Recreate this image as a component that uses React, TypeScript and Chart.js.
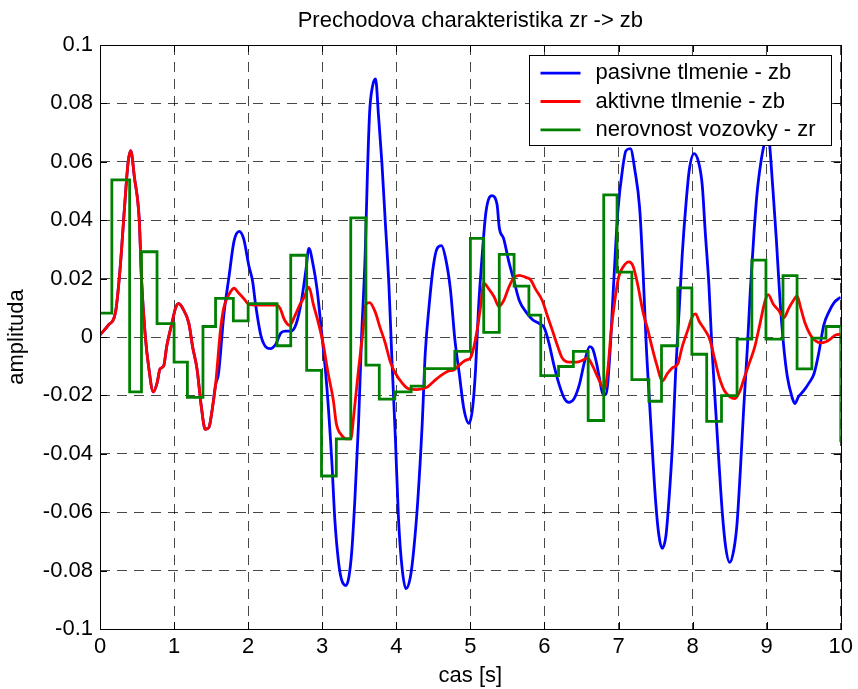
import React, { useEffect, useRef } from "react";
import { Chart, registerables } from "chart.js";

Chart.register(...registerables);

const chartTitle = "Prechodova charakteristika zr -> zb";
const xAxisTitle = "cas [s]";
const yAxisTitle = "amplituda";
const seriesLabels = ["pasivne tlmenie - zb", "aktivne tlmenie - zb", "nerovnost vozovky - zr"];
const seriesColors = ["#0000ff", "#ff0000", "#008000"];

const xTickValues = [0, 1, 2, 3, 4, 5, 6, 7, 8, 9, 10];
const yTickValues = [-0.1, -0.08, -0.06, -0.04, -0.02, 0, 0.02, 0.04, 0.06, 0.08, 0.1];

// shared start of passive and active response (curves coincide)
const commonTime = [0, 0.11, 0.21, 0.27, 0.33, 0.38, 0.415, 0.465, 0.53, 0.56, 0.61, 0.655, 0.72, 0.77, 0.81, 0.86, 0.9, 0.97, 1.02, 1.06, 1.115, 1.2, 1.25, 1.31, 1.37, 1.42, 1.47, 1.51, 1.56];
const commonZb = [0.0007, 0.004, 0.0086, 0.023, 0.044, 0.06, 0.0638, 0.0546, 0.04, 0.02, 0.0007, -0.0099, -0.0188, -0.0158, -0.011, -0.0099, -0.0033, 0.0046, 0.0099, 0.0114, 0.0099, 0.0046, -0.0033, -0.011, -0.0243, -0.0316, -0.031, -0.0257, -0.0164];

const passiveTailTime = [1.6, 1.67, 1.74, 1.81, 1.88, 1.94, 2.01, 2.06, 2.1, 2.17, 2.235, 2.3, 2.37, 2.44, 2.5, 2.58, 2.65, 2.72, 2.78, 2.82, 2.88, 2.93, 2.99, 3.06, 3.13, 3.17, 3.22, 3.26, 3.32, 3.36, 3.4, 3.44, 3.49, 3.53, 3.58, 3.61, 3.64, 3.68, 3.72, 3.76, 3.805, 3.85, 3.9, 3.94, 3.99, 4.03, 4.08, 4.13, 4.19, 4.235, 4.29, 4.35, 4.39, 4.44, 4.5, 4.55, 4.61, 4.665, 4.73, 4.79, 4.85, 4.91, 4.98, 5.03, 5.07, 5.11, 5.16, 5.21, 5.29, 5.36, 5.39, 5.45, 5.52, 5.59, 5.66, 5.75, 5.84, 5.93, 5.995, 6.06, 6.13, 6.2, 6.27, 6.33, 6.4, 6.47, 6.54, 6.61, 6.65, 6.7, 6.74, 6.79, 6.83, 6.88, 6.93, 6.99, 7.06, 7.1, 7.16, 7.22, 7.285, 7.33, 7.375, 7.42, 7.45, 7.5, 7.545, 7.59, 7.64, 7.68, 7.73, 7.77, 7.82, 7.86, 7.91, 7.955, 8.02, 8.08, 8.13, 8.17, 8.22, 8.26, 8.31, 8.355, 8.4, 8.445, 8.5, 8.555, 8.6, 8.645, 8.69, 8.74, 8.78, 8.83, 8.87, 8.93, 8.98, 9.01, 9.04, 9.08, 9.13, 9.18, 9.23, 9.28, 9.34, 9.38, 9.43, 9.5, 9.57, 9.64, 9.7, 9.77, 9.84, 9.91, 9.975, 10.0];
const passiveTailZb = [-0.0125, 0.0072, 0.0204, 0.0329, 0.0362, 0.0336, 0.0243, 0.0191, 0.0112, 0.0007, -0.0033, -0.004, -0.0026, 0.0013, 0.002, 0.002, 0.0046, 0.0125, 0.023, 0.0303, 0.0243, 0.0164, 0.002, -0.0164, -0.0428, -0.0625, -0.077, -0.083, -0.0851, -0.0822, -0.073, -0.056, -0.0296, -0.0007, 0.0283, 0.0559, 0.077, 0.086, 0.0884, 0.0757, 0.0599, 0.04, 0.0178, -0.0072, -0.0362, -0.0625, -0.0796, -0.0862, -0.0822, -0.073, -0.056, -0.0296, -0.0059, 0.0099, 0.0243, 0.0303, 0.0313, 0.027, 0.0164, -0.0007, -0.0125, -0.0243, -0.0296, -0.0243, -0.0112, 0.0099, 0.0283, 0.0428, 0.0484, 0.0454, 0.0375, 0.0336, 0.0257, 0.0191, 0.0125, 0.0086, 0.0059, 0.0046, 0.0033, -0.002, -0.0099, -0.0164, -0.0211, -0.0224, -0.0211, -0.0164, -0.0086, -0.0033, -0.004, -0.0086, -0.0138, -0.0197, -0.0197, -0.0072, 0.0164, 0.0428, 0.0586, 0.0638, 0.0645, 0.0572, 0.0441, 0.023, -0.0033, -0.023, -0.036, -0.056, -0.068, -0.0724, -0.068, -0.056, -0.036, -0.0125, 0.0099, 0.0283, 0.0454, 0.0572, 0.0628, 0.0599, 0.052, 0.0362, 0.0178, -0.0033, -0.0243, -0.0428, -0.0599, -0.0717, -0.0772, -0.073, -0.0638, -0.0454, -0.0243, -0.0033, 0.0164, 0.0362, 0.0493, 0.0612, 0.0678, 0.072, 0.0658, 0.052, 0.0336, 0.0125, -0.0033, -0.0138, -0.0204, -0.0228, -0.0204, -0.0184, -0.0158, -0.0125, -0.0059, 0.004, 0.0086, 0.0118, 0.0132, 0.0136];

const activeTailTime = [1.625, 1.67, 1.74, 1.81, 1.87, 1.94, 2.01, 2.19, 2.39, 2.43, 2.49, 2.56, 2.63, 2.7, 2.76, 2.82, 2.88, 2.95, 3.01, 3.08, 3.15, 3.19, 3.26, 3.33, 3.385, 3.43, 3.49, 3.55, 3.59, 3.64, 3.715, 3.78, 3.85, 3.92, 3.99, 4.08, 4.17, 4.28, 4.42, 4.51, 4.6, 4.69, 4.78, 4.87, 4.94, 5.0, 5.07, 5.135, 5.18, 5.25, 5.32, 5.385, 5.45, 5.52, 5.59, 5.66, 5.75, 5.81, 5.88, 5.97, 6.04, 6.11, 6.18, 6.24, 6.33, 6.43, 6.52, 6.58, 6.65, 6.72, 6.81, 6.855, 6.9, 6.95, 7.0, 7.07, 7.14, 7.195, 7.26, 7.33, 7.4, 7.45, 7.52, 7.59, 7.66, 7.73, 7.8, 7.86, 7.93, 8.0, 8.04, 8.09, 8.16, 8.23, 8.295, 8.36, 8.43, 8.5, 8.57, 8.64, 8.7, 8.77, 8.84, 8.91, 8.98, 9.02, 9.09, 9.16, 9.23, 9.3, 9.36, 9.41, 9.46, 9.52, 9.59, 9.66, 9.73, 9.8, 9.86, 9.93, 10.0];
const activeTailZb = [0.002, 0.0099, 0.0145, 0.0167, 0.0151, 0.0132, 0.0112, 0.0109, 0.0109, 0.0099, 0.0059, 0.004, 0.0072, 0.0112, 0.0138, 0.0171, 0.0112, 0.0046, -0.002, -0.0125, -0.0217, -0.0296, -0.0336, -0.0349, -0.0349, -0.0257, -0.0112, 0.002, 0.0112, 0.0118, 0.0086, 0.0033, -0.002, -0.0086, -0.0125, -0.0158, -0.0178, -0.018, -0.0171, -0.0151, -0.0132, -0.0118, -0.0112, -0.0092, -0.0079, -0.0072, -0.0007, 0.0099, 0.0184, 0.0164, 0.0138, 0.0105, 0.0125, 0.0171, 0.0204, 0.0211, 0.0204, 0.0197, 0.0164, 0.0125, 0.0072, 0.002, -0.0033, -0.0072, -0.0086, -0.0086, -0.0079, -0.0072, -0.0099, -0.0138, -0.0178, -0.0112, 0.002, 0.0125, 0.0204, 0.0243, 0.0257, 0.0243, 0.0178, 0.0086, 0.002, -0.0033, -0.0099, -0.0151, -0.0125, -0.0105, -0.0092, -0.0033, 0.002, 0.0072, 0.0079, 0.0053, 0.0026, -0.0007, -0.0072, -0.0138, -0.0184, -0.0204, -0.0211, -0.0184, -0.0138, -0.0086, -0.0033, 0.0046, 0.0125, 0.0145, 0.0112, 0.0092, 0.0066, 0.0099, 0.0125, 0.0141, 0.0099, 0.0046, 0.0007, -0.0013, -0.002, -0.0016, -0.0007, 0.0007, 0.0009];

// road profile: value holds from each time until the next one
const roadTime = [0, 0.16, 0.4, 0.56, 0.77, 1.0, 1.18, 1.39, 1.56, 1.8, 2.0, 2.39, 2.575, 2.79, 2.99, 3.19, 3.385, 3.59, 3.77, 3.98, 4.2, 4.38, 4.79, 5.0, 5.18, 5.39, 5.59, 5.79, 5.95, 6.19, 6.39, 6.59, 6.8, 6.98, 7.18, 7.41, 7.58, 7.8, 7.99, 8.19, 8.39, 8.6, 8.8, 8.99, 9.22, 9.41, 9.61, 9.8, 10.0];
const roadZr = [0.0082, 0.0538, -0.0188, 0.0292, 0.0046, -0.0086, -0.0207, 0.0036, 0.0132, 0.0055, 0.0114, -0.003, 0.028, -0.0114, -0.0476, -0.0349, 0.0408, -0.0096, -0.0213, -0.0188, -0.0168, -0.0108, -0.0049, 0.0338, 0.0016, 0.0283, 0.0174, 0.0075, -0.0132, -0.0101, -0.0049, -0.0286, 0.0487, 0.0222, -0.0146, -0.022, -0.003, 0.0168, -0.0059, -0.0289, -0.0201, -0.0007, 0.0263, -0.0007, 0.021, -0.0109, -0.0004, 0.0036, -0.036];

const FONT_FAMILY = '"Liberation Sans", Arial, Helvetica, sans-serif';
const FONT_SIZE = 22;

const toPoints = (xs: number[], ys: number[]) => xs.map((x, i) => ({ x, y: ys[i] }));

const frameLegendPlugin = {
  id: "frameLegend",
  afterDatasetsDraw(chart: any) {
    const { ctx, chartArea: a, scales } = chart;
    ctx.save();
    ctx.strokeStyle = "#000";
    ctx.lineWidth = 1;
    ctx.setLineDash([]);
    const tl = 7;
    ctx.beginPath();
    for (const v of xTickValues) {
      const px = Math.round(scales.x.getPixelForValue(v)) + 0.5;
      ctx.moveTo(px, a.bottom);
      ctx.lineTo(px, a.bottom - tl);
      ctx.moveTo(px, a.top);
      ctx.lineTo(px, a.top + tl);
    }
    for (const v of yTickValues) {
      const py = Math.round(scales.y.getPixelForValue(v)) + 0.5;
      ctx.moveTo(a.left, py);
      ctx.lineTo(a.left + tl, py);
      ctx.moveTo(a.right, py);
      ctx.lineTo(a.right - tl, py);
    }
    ctx.stroke();
    const l = Math.round(a.left) + 0.5;
    const t = Math.round(a.top) + 0.5;
    const r = Math.round(a.right) + 0.5;
    const b = Math.round(a.bottom) + 0.5;
    ctx.strokeRect(l, t, r - l, b - t);

    // legend box
    ctx.font = `${FONT_SIZE}px ${FONT_FAMILY}`;
    const datasets = chart.data.datasets;
    let maxW = 0;
    for (const ds of datasets) maxW = Math.max(maxW, ctx.measureText(ds.label).width);
    const boxW = Math.round(66 + maxW + 16);
    const boxH = 90;
    const bx = Math.round(a.right - 10 - boxW) + 0.5;
    const by = Math.round(a.top + 10) + 0.5;
    ctx.fillStyle = "#fff";
    ctx.fillRect(bx, by, boxW, boxH);
    ctx.strokeStyle = "#000";
    ctx.lineWidth = 1;
    ctx.strokeRect(bx, by, boxW, boxH);
    const rowY = [17.7, 46, 74.3];
    datasets.forEach((ds: any, i: number) => {
      const y = by + rowY[i];
      ctx.strokeStyle = ds.borderColor;
      ctx.lineWidth = 2.8;
      ctx.beginPath();
      ctx.moveTo(bx + 11, y);
      ctx.lineTo(bx + 51, y);
      ctx.stroke();
      ctx.fillStyle = "#000";
      ctx.textBaseline = "middle";
      ctx.textAlign = "left";
      ctx.fillText(ds.label, bx + 66, y);
    });
    ctx.restore();
  },
};

export default function App() {
  const canvasRef = useRef<HTMLCanvasElement>(null);

  useEffect(() => {
    const canvas = canvasRef.current;
    if (!canvas) return;
    const font = { family: FONT_FAMILY, size: FONT_SIZE, weight: "normal" as const, lineHeight: 1.2 };
    const gridColor = "rgba(0,0,0,0.72)";
    const chart = new Chart(canvas, {
      type: "line",
      data: {
        datasets: [
          {
            label: seriesLabels[0],
            data: toPoints(commonTime.concat(passiveTailTime), commonZb.concat(passiveTailZb)),
            borderColor: seriesColors[0],
            backgroundColor: seriesColors[0],
            borderWidth: 2.8,
            pointRadius: 0,
            cubicInterpolationMode: "monotone",
            fill: false,
            order: 3,
          },
          {
            label: seriesLabels[1],
            data: toPoints(commonTime.concat(activeTailTime), commonZb.concat(activeTailZb)),
            borderColor: seriesColors[1],
            backgroundColor: seriesColors[1],
            borderWidth: 2.8,
            pointRadius: 0,
            cubicInterpolationMode: "monotone",
            fill: false,
            order: 2,
          },
          {
            label: seriesLabels[2],
            data: toPoints(roadTime, roadZr),
            borderColor: seriesColors[2],
            backgroundColor: seriesColors[2],
            borderWidth: 2.8,
            pointRadius: 0,
            stepped: "before",
            fill: false,
            order: 1,
          },
        ],
      },
      options: {
        animation: false,
        responsive: false,
        devicePixelRatio: 1,
        layout: { padding: { left: 0, right: 17, top: 0, bottom: 0 } },
        plugins: {
          legend: { display: false },
          tooltip: { enabled: false },
          title: {
            display: true,
            text: chartTitle,
            color: "#000",
            font,
            fullSize: false,
            padding: { top: 8.2, bottom: 10.4 },
          },
        },
        scales: {
          x: {
            type: "linear",
            min: 0,
            max: 10,
            afterBuildTicks: (s: any) => {
              s.ticks = xTickValues.map((v) => ({ value: v }));
            },
            afterFit: (s: any) => {
              s.height = 60;
            },
            ticks: {
              autoSkip: false,
              maxRotation: 0,
              color: "#000",
              font,
              padding: 5,
              callback: (v: any) => String(v),
            },
            grid: { color: gridColor, lineWidth: 1, drawTicks: false },
            border: { display: false, dash: [10, 7] },
            title: { display: true, text: xAxisTitle, color: "#000", font, padding: { top: 0, bottom: 0 } },
          },
          y: {
            type: "linear",
            min: -0.1,
            max: 0.1,
            afterBuildTicks: (s: any) => {
              s.ticks = yTickValues.map((v) => ({ value: v }));
            },
            afterFit: (s: any) => {
              s.width = 100;
            },
            ticks: {
              autoSkip: false,
              color: "#000",
              font,
              padding: 7,
              callback: (v: any) => String(parseFloat(Number(v).toFixed(2))),
            },
            grid: { color: gridColor, lineWidth: 1, drawTicks: false },
            border: { display: false, dash: [10, 7] },
            title: { display: true, text: yAxisTitle, color: "#000", font, padding: { top: 4, bottom: 0 } },
          },
        },
      } as any,
      plugins: [frameLegendPlugin],
    });
    return () => chart.destroy();
  }, []);

  return (
    <div style={{ position: "absolute", left: 0, top: 0, width: 858, height: 689, background: "#fff" }}>
      <canvas ref={canvasRef} width={858} height={689} style={{ display: "block" }} />
    </div>
  );
}
